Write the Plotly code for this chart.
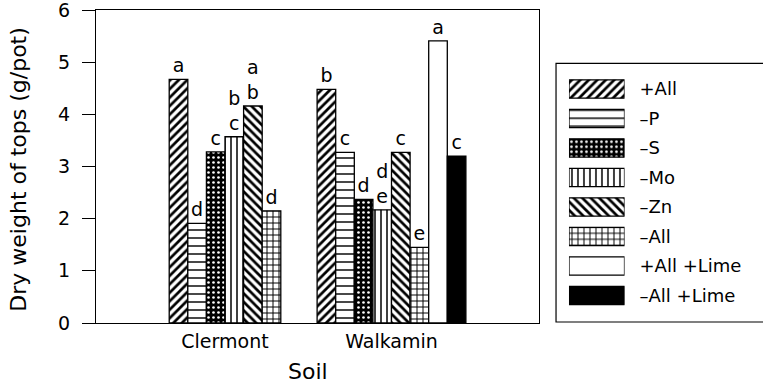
import plotly.graph_objects as go

# ---- data ----
soils = ["Clermont", "Walkamin"]
series = ["+All", "\u2013P", "\u2013S", "\u2013Mo", "\u2013Zn", "\u2013All", "+All +Lime", "\u2013All +Lime"]
clermont = [4.67, 1.91, 3.28, 3.57, 4.16, 2.15, None, None]
walkamin = [4.48, 3.27, 2.37, 2.17, 3.27, 1.45, 5.41, 3.20]
clermont_letters = ["a", "d", "c", "b<br>c", "a<br>b", "d", None, None]
walkamin_letters = ["b", "c", "d", "d<br>e", "c", "e", "a", "c"]
y_ticks = [0, 1, 2, 3, 4, 5, 6]

# ---- styles ----
FONT = "DejaVu Sans, Liberation Sans, Arial, sans-serif"
FS = 19
shapes_ = ["/", "-", ".", "|", "\\", "+", "", ""]
fg = ["black", "black", "white", "black", "black", "black", "black", "black"]
bg = ["white", "white", "black", "white", "white", "white", "white", "black"]
psize = [6, 8, 5, 6, 6, 6, 8, 8]
psol = [0.45, 0.18, 0.22, 0.25, 0.45, 0.3, 0.3, 0.3]

W = 0.1117  # bar width in category units


def marker(i):
    return dict(color=bg[i], line=dict(color="black", width=1.3),
                pattern=dict(shape=shapes_[i], fgcolor=fg[i], bgcolor=bg[i],
                             size=psize[i], solidity=psol[i], fillmode="replace"))


fig = go.Figure()
for i, name in enumerate(series):
    xs, ys, offs, txt = [], [], [], []
    if clermont[i] is not None:
        xs.append(soils[0]); ys.append(clermont[i]); offs.append((i - 3) * W); txt.append(clermont_letters[i])
    xs.append(soils[1]); ys.append(walkamin[i]); offs.append((i - 4) * W); txt.append(walkamin_letters[i])
    fig.add_trace(go.Bar(
        x=xs, y=ys, name=name, offset=offs, width=W,
        text=txt, textposition="outside", cliponaxis=False,
        textfont=dict(family=FONT, size=FS, color="black"),
        marker=marker(i), showlegend=False,
    ))

# custom legend: one horizontal bar per series on an auxiliary axis
for i, name in enumerate(series):
    fig.add_trace(go.Bar(
        x=[1], y=[name], orientation="h", width=0.62,
        xaxis="x2", yaxis="y2", showlegend=False, hoverinfo="skip",
        marker=marker(i),
    ))

fig.update_layout(
    width=763, height=387,
    margin=dict(l=96, r=0, t=10, b=64),
    paper_bgcolor="white", plot_bgcolor="white",
    barmode="overlay",
    font=dict(family=FONT, size=FS, color="black"),
    xaxis=dict(domain=[0, 0.6642], range=[-0.7748, 1.886], showline=True, mirror=True,
               linecolor="black", linewidth=1.2, ticks="", showgrid=False, zeroline=False,
               tickfont=dict(size=FS), ticklabelstandoff=1, fixedrange=True, automargin=False,
               ticklabeloverflow="allow"),
    yaxis=dict(range=[0, 6], tickvals=y_ticks, showline=True, mirror=True,
               linecolor="black", linewidth=1.2, ticks="outside", ticklen=13, tickcolor="black",
               tickwidth=1, showgrid=False, zeroline=False, tickfont=dict(size=FS),
               ticklabelstandoff=8, automargin=False, ticklabeloverflow="allow"),
    xaxis2=dict(domain=[0.7091, 0.7924], range=[0, 1], anchor="y2", visible=False,
                automargin=False),
    yaxis2=dict(domain=[0.0407, 0.7947], anchor="x2", side="right", type="category",
                categoryorder="array", categoryarray=series, autorange="reversed",
                showline=False, ticks="", showgrid=False, zeroline=False,
                tickfont=dict(size=18), ticklabelstandoff=14, automargin=False,
                ticklabeloverflow="allow"),
    shapes=[dict(type="rect", xref="paper", yref="paper", x0=0.6897, x1=1.02,
                 y0=0.0032, y1=0.8297, line=dict(color="black", width=1.2))],
    annotations=[
        dict(text="Soil", xref="x", x=0.5, yref="paper", y=-0.156, yanchor="middle",
             showarrow=False, font=dict(size=22)),
        dict(text="Dry weight of tops (g/pot)", xref="paper", x=-0.1154, yref="paper",
             y=0.49, textangle=-90, showarrow=False, font=dict(size=22),
             xanchor="center", yanchor="middle"),
    ],
)

fig.write_html("out.html", config={"displayModeBar": False},
               post_script="document.body.style.margin='0';")
